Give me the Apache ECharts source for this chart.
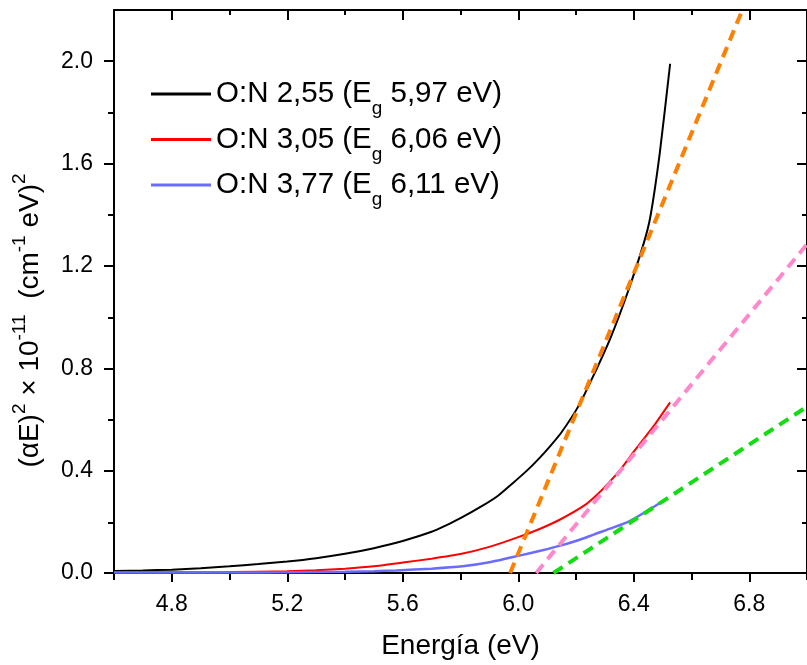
<!DOCTYPE html>
<html>
<head>
<meta charset="utf-8">
<script src="https://cdn.jsdelivr.net/npm/echarts@6/dist/echarts.min.js"></script>
<style>html,body{margin:0;padding:0;background:#fff;}#c{width:807px;height:665px;}</style>
</head>
<body>
<div id="c"></div>
<script>
// ---- data ----
const blackX = [4.6, 4.7, 4.8, 4.9, 5.0, 5.1, 5.2, 5.3, 5.4, 5.5, 5.6, 5.7, 5.75, 5.8, 5.875, 5.93, 5.98, 6.03, 6.07, 6.11, 6.15, 6.21, 6.26, 6.32, 6.38, 6.435, 6.458, 6.49, 6.526];
const blackY = [0.008, 0.010, 0.013, 0.019, 0.026, 0.035, 0.045, 0.058, 0.075, 0.097, 0.125, 0.161, 0.186, 0.214, 0.262, 0.302, 0.350, 0.400, 0.445, 0.495, 0.550, 0.655, 0.770, 0.920, 1.10, 1.29, 1.395, 1.64, 1.99];
const redX = [4.6, 4.8, 5.0, 5.2, 5.3, 5.4, 5.5, 5.6, 5.7, 5.8, 5.9, 6.0, 6.08, 6.15, 6.229, 6.27, 6.31, 6.36, 6.40, 6.44, 6.47, 6.526];
const redY = [0.003, 0.003, 0.004, 0.007, 0.011, 0.017, 0.026, 0.041, 0.056, 0.074, 0.102, 0.140, 0.175, 0.212, 0.264, 0.303, 0.348, 0.413, 0.474, 0.532, 0.576, 0.667];
const blueX = [4.6, 5.0, 5.2, 5.4, 5.5, 5.578, 5.7, 5.807, 5.9, 6.0, 6.08, 6.149, 6.21, 6.263, 6.33, 6.389, 6.45, 6.514];
const blueY = [0.002, 0.002, 0.003, 0.005, 0.007, 0.010, 0.017, 0.026, 0.042, 0.067, 0.088, 0.108, 0.129, 0.151, 0.178, 0.205, 0.245, 0.290];
const orangeX = [5.972, 6.776];
const orangeY = [0, 2.2];
const pinkX = [6.062, 7.0];
const pinkY = [0, 1.285];
const greenX = [6.122, 7.0];
const greenY = [0, 0.65];
const names = ['O:N 2,55 (Eg 5,97 eV)', 'O:N 3,05 (Eg 6,06 eV)', 'O:N 3,77 (Eg 6,11 eV)'];
const xMajor = [4.8, 5.2, 5.6, 6.0, 6.4, 6.8];
const xMinor = [4.6, 5.0, 5.4, 5.8, 6.2, 6.6, 7.0];
const yMajor = [0.0, 0.4, 0.8, 1.2, 1.6, 2.0];
const yMinor = [0.2, 0.6, 1.0, 1.4, 1.8];

const pairs = (xs, ys) => xs.map((x, i) => [x, ys[i]]);
const FONT = 'Liberation Sans, Arial, sans-serif';
const gridRect = {left: 114, top: 10, width: 701, height: 564};

function xAx(gi, pos, ticks, len, inside, showLine, showLabel, extra) {
  return Object.assign({
    type: 'value', gridIndex: gi, position: pos, min: 4.6, max: 7.0,
    axisLine: {show: showLine, onZero: false, lineStyle: {color: '#000', width: 2}},
    axisTick: {show: true, inside: inside, length: len, customValues: ticks, lineStyle: {color: '#000', width: 2}},
    axisLabel: {show: showLabel, customValues: ticks, margin: 20, color: '#000', fontSize: 23, fontFamily: FONT,
      formatter: v => Number(v).toFixed(1)},
    splitLine: {show: false}
  }, extra || {});
}
function yAx(gi, pos, ticks, len, inside, showLine, showLabel, extra) {
  return Object.assign({
    type: 'value', gridIndex: gi, position: pos, min: 0, max: 2.2,
    axisLine: {show: showLine, onZero: false, lineStyle: {color: '#000', width: 2}},
    axisTick: {show: true, inside: inside, length: len, customValues: ticks, lineStyle: {color: '#000', width: 2}},
    axisLabel: {show: showLabel, customValues: ticks, margin: 21, color: '#000', fontSize: 23, fontFamily: FONT,
      formatter: v => Number(v).toFixed(1)},
    splitLine: {show: false}
  }, extra || {});
}

const legendRich = {
  a: {fontSize: 29.5, fontFamily: FONT, color: '#000'},
  s: {fontSize: 19, fontFamily: FONT, color: '#000', padding: [30, 0, 0, 0]}
};
const supRich = {
  a: {fontSize: 28, fontFamily: FONT, color: '#000'},
  s: {fontSize: 19, fontFamily: FONT, color: '#000', padding: [0, 0, 22, 0]}
};

const chart = echarts.init(document.getElementById('c'), null, {renderer: 'canvas'});
const lineS = (name, xs, ys, color, width, z, dash) => ({
  name: name, type: 'line', xAxisIndex: 0, yAxisIndex: 0, data: pairs(xs, ys),
  showSymbol: false, symbol: 'none', smooth: dash ? false : 0.2,
  lineStyle: {color: color, width: width, type: dash || 'solid'}, itemStyle: {color: color}, z: z
});
chart.setOption({
  animation: false,
  backgroundColor: '#fff',
  grid: [Object.assign({}, gridRect), Object.assign({}, gridRect)],
  legend: {
    orient: 'vertical', left: 151, top: 79, padding: 0, icon: 'rect', itemWidth: 60, itemHeight: 3, itemGap: 6,
    data: names,
    formatter: n => {
      const m = n.match(/^(.*\(E)g(.*)$/);
      return '{a|' + m[1] + '}{s|g}{a|' + m[2] + '}';
    },
    textStyle: {rich: legendRich}
  },
  xAxis: [
    xAx(0, 'bottom', xMajor, 9, false, true, true, {
      name: 'Energía (eV)', nameLocation: 'middle', nameGap: 59,
      nameTextStyle: {fontSize: 28, fontFamily: FONT, color: '#000'}
    }),
    xAx(0, 'top', xMajor, 10, true, true, false),
    xAx(1, 'bottom', xMinor, 6, false, false, false),
    xAx(1, 'top', xMinor, 5, true, false, false)
  ],
  yAxis: [
    yAx(0, 'left', yMajor, 10, false, true, true, {
      name: '{a|(αE)}{s|2}{a| × 10}{s|-11}{a|  (cm}{s|-1}{a| eV)}{s|2}',
      nameLocation: 'middle', nameRotate: 90, nameGap: 63,
      nameTextStyle: {rich: supRich, padding: [0, 58, 0, 0]}
    }),
    yAx(0, 'right', yMajor, 10, true, true, false),
    yAx(1, 'left', yMinor, 6, false, false, false),
    yAx(1, 'right', yMinor, 5, true, false, false)
  ],
  series: [
    lineS(names[0], blackX, blackY, '#000000', 2, 2),
    lineS(names[1], redX, redY, '#ff0000', 2, 2),
    lineS(names[2], blueX, blueY, '#6b6bff', 2.5, 2),
    lineS('fit1', orangeX, orangeY, '#ff8000', 4, 3, [11, 7]),
    lineS('fit2', pinkX, pinkY, '#ff88cc', 4, 3, [11, 7]),
    lineS('fit3', greenX, greenY, '#11dd11', 4, 3, [11, 7])
  ]
});
</script>
</body>
</html>
